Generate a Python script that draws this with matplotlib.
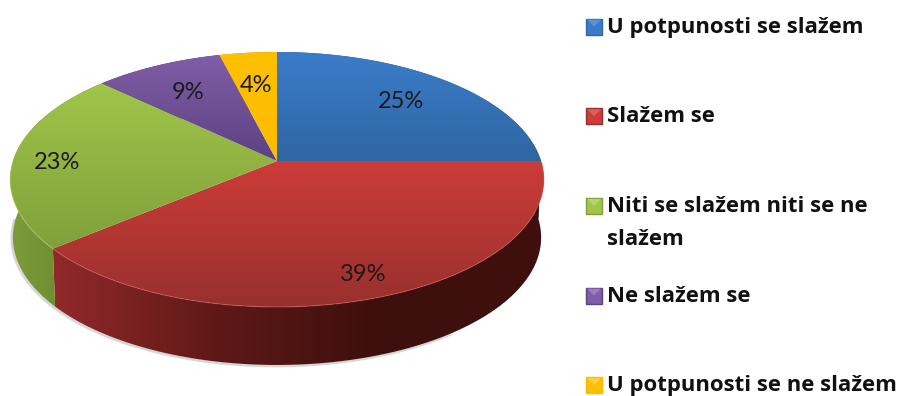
import numpy as np
import matplotlib
matplotlib.use('Agg')
import matplotlib.pyplot as plt
from matplotlib.colors import LinearSegmentedColormap
from matplotlib.patches import Polygon, Rectangle
from matplotlib.path import Path

# data
categories = ['U potpunosti se slažem', 'Slažem se', 'Niti se slažem niti se ne\nslažem',
              'Ne slažem se', 'U potpunosti se ne slažem']
values = [25, 39, 23, 9, 4]

# styles
top_colors = [('#3b7cc9', '#2f66a3'), ('#cc3c39', '#98302d'), ('#a0c54a', '#80a03a'),
              ('#805da8', '#5c4280'), ('#ffc000', '#fdbb00')]
side_colors = [('#2a5a90', '#1c3d63'), ('#92292a', '#5e1917', '#3d0f0d', '#3f100e'),
               ('#7d9d3a', '#5f7f2b'), ('#5c4280', '#43305e'), ('#c99700', '#a87e00')]
rim_colors = ['#5a92d6', '#d9605c', '#b5d56a', '#9a7cc0', '#ffd040']
label_radius = [0.71, 0.85, 0.835, 0.72, 0.70]
label_dy = [-1, 1, 5, 2, 3]

# pie geometry in pixels, perspective view of a circle
cx, cy = 277, 161
a, b, k = 264, 124.8, 0.145
depth = 58
side_shrink = 0.99

plt.rcParams['font.family'] = ['Lato', 'DejaVu Sans']


def project(theta, r=1.0):
    x = r * np.sin(theta)
    y = r * np.cos(theta)
    d = 1 + k * y
    return cx + a * x / d, cy - b * y / d


def gradient(ax, verts, colors, horizontal, zorder):
    x0, y0 = verts.min(axis=0)
    x1, y1 = verts.max(axis=0)
    cmap = LinearSegmentedColormap.from_list('g', colors)
    ramp = np.linspace(0, 1, 256)
    img = ramp.reshape(1, -1) if horizontal else ramp.reshape(-1, 1)
    im = ax.imshow(img, cmap=cmap, extent=(x0, x1, y1, y0), origin='upper',
                   aspect='auto', zorder=zorder, interpolation='bilinear')
    im.set_clip_path(Path(np.vstack([verts, verts[0]]), closed=True), transform=ax.transData)


fig = plt.figure(figsize=(9.01, 3.96), dpi=100)
ax = fig.add_axes([0, 0, 1, 1])

edges = np.cumsum([0] + values) / sum(values) * 2 * np.pi

# soft shadow under the lower rim
t = np.linspace(0.8 * np.pi, 1.5 * np.pi, 200)
sx, sy = project(t)
sx = cx + (sx - cx) * side_shrink
ax.plot(sx - 1, sy + depth + 1, color='#9a9a9a', lw=2, alpha=0.4, zorder=1)

for i in range(len(values)):
    t = np.linspace(edges[i], edges[i + 1], 120)
    x, y = project(t)
    low_x = cx + (x - cx) * side_shrink
    side = np.vstack([np.column_stack([x, y]),
                      np.column_stack([low_x, y + depth])[::-1]])
    gradient(ax, side, side_colors[i], True, 2)

for i in range(len(values)):
    t = np.linspace(edges[i], edges[i + 1], 120)
    x, y = project(t)
    top = np.vstack([[cx, cy], np.column_stack([x, y])])
    gradient(ax, top, top_colors[i], False, 3)
    front = y > cy
    ax.plot(x[front], y[front], color=rim_colors[i], lw=0.8, alpha=0.5, zorder=4)

for i, v in enumerate(values):
    mid = (edges[i] + edges[i + 1]) / 2
    lx, ly = project(mid, label_radius[i])
    ax.text(lx, ly + label_dy[i], f'{v}%', fontsize=17, color='#1a1a1a', ha='center', va='center', zorder=5)

# legend
for i, name in enumerate(categories):
    row = 26.5 + 89.7 * i
    c1, c2 = top_colors[i]
    ax.add_patch(Rectangle((586, row - 8), 16, 16, facecolor=c1, edgecolor=c2,
                           lw=1.0, zorder=5))
    ax.add_patch(Polygon([(587, row - 7), (601, row - 7), (594, row)], facecolor=rim_colors[i],
                         edgecolor='none', zorder=6))
    for j, line in enumerate(name.split('\n')):
        ax.text(607, row + 6 + 33 * j, line, fontsize=15.9, fontweight='bold', color='#111111',
                family=['Open Sans', 'DejaVu Sans'], ha='left', va='baseline', zorder=5)

ax.set_xlim(0, 901)
ax.set_ylim(396, 0)
ax.axis('off')

fig.savefig('out.png', dpi=100, facecolor='white')
